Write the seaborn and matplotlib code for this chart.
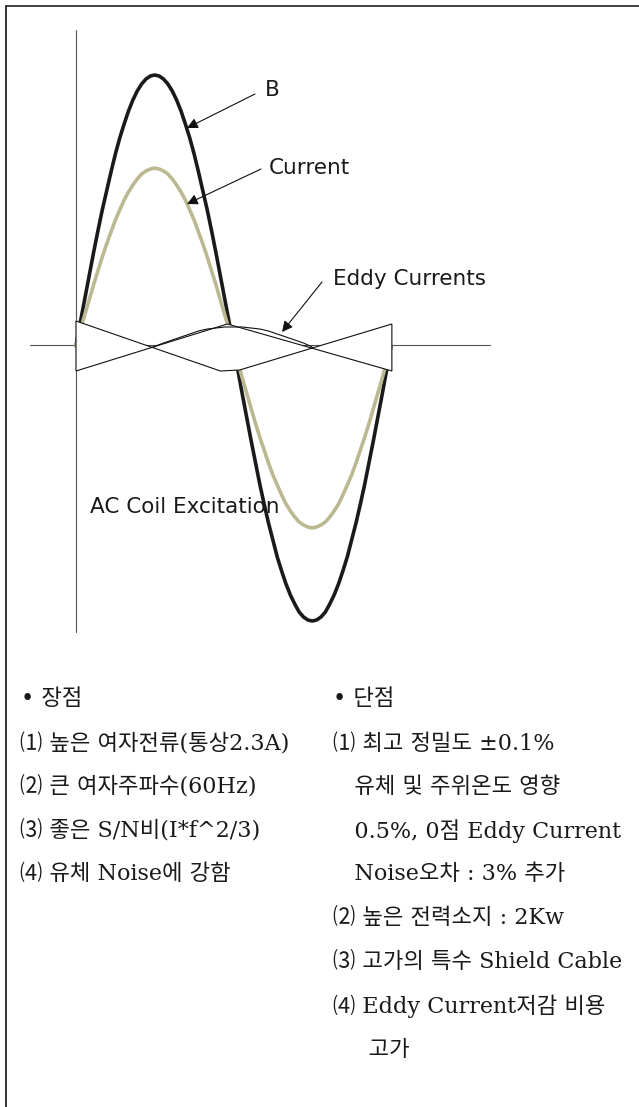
import seaborn as sns
import matplotlib.pyplot as plt
import pandas as pd
import numpy as np

# DATA
# Wave plot: phase in degrees, amplitude in screen units (zero = horizontal axis)
phase = list(range(0, 361, 5))
b_values = [0, 24, 47, 70, 93, 115, 136, 155, 174, 192, 208, 222, 235, 246, 255, 262, 267, 270, 271,
            270, 267, 262, 255, 246, 235, 222, 208, 192, 174, 155, 136, 115, 93, 70, 47, 24, 0,
            -24, -48, -71, -94, -116, -138, -158, -177, -194, -211, -225, -238, -249, -258, -266, -271, -274, -275,
            -274, -271, -266, -258, -249, -238, -225, -211, -194, -177, -158, -138, -116, -94, -71, -48, -24, 0]
current_values = [0, 16, 31, 46, 61, 75, 89, 102, 114, 126, 136, 146, 154, 161, 167, 172, 175, 177, 178,
                  177, 175, 172, 167, 161, 154, 146, 136, 126, 114, 102, 89, 75, 61, 46, 31, 16, 0,
                  -16, -32, -47, -62, -77, -91, -104, -117, -129, -139, -149, -158, -165, -171, -176, -179, -181, -182,
                  -181, -179, -176, -171, -165, -158, -149, -139, -129, -117, -104, -91, -77, -62, -47, -32, -16, 0]

# eddy current hump between the two crossings
eddy_phase = [88, 100, 110, 120, 130, 140, 150, 160, 170, 180, 190, 200, 210, 220, 230, 240, 250, 260, 270]
eddy_values = [-1, 3, 6, 9, 12, 15, 17, 18, 19, 19, 19, 18, 17, 15, 12, 9, 6, 3, -1]

# eddy current envelope (two crossing zigzags)
env_phase = [0, 165, 187, 361, 361, 173, 0]
env_values = [25, -25, -24, 22, -25, 22, -25]

wave_labels = ['B', 'Current', 'Eddy Currents']
title_text = 'AC Coil Excitation'

pros_title = '• 장점'
pros = ['⑴ 높은 여자전류(통상2.3A)',
        '⑵ 큰 여자주파수(60Hz)',
        '⑶ 좋은 S/N비(I*f^2/3)',
        '⑷ 유체 Noise에 강함']
cons_title = '• 단점'
cons = ['⑴ 최고 정밀도 ±0.1%',
        '   유체 및 주위온도 영향',
        '   0.5%, 0점 Eddy Current',
        '   Noise오차 : 3% 추가',
        '⑵ 높은 전력소지 : 2Kw',
        '⑶ 고가의 특수 Shield Cable',
        '⑷ Eddy Current저감 비용',
        '     고가']

# LAYOUT
W, H = 639, 1107
X0, Y0, PX_PER_DEG = 76, 346, 0.875

sns.set_style('white')
korean = ['DejaVu Serif', 'Noto Sans CJK KR']

fig = plt.figure(figsize=(W / 100, H / 100), dpi=100)
fig.patch.set_facecolor('white')

# wave axes covers the whole figure, data units = degrees / pixels
ax = fig.add_axes([0, 0, 1, 1])
ax.set_xlim(-X0 / PX_PER_DEG, (W - X0) / PX_PER_DEG)
ax.set_ylim(-(H - Y0), Y0)
ax.axis('off')

# axes of the diagram
ax.plot([(30 - X0) / PX_PER_DEG, (490 - X0) / PX_PER_DEG], [1, 1], color='#555555', lw=0.8, zorder=1)
ax.plot([0, 0], [Y0 - 30, Y0 - 632], color='#555555', lw=0.8, zorder=1)

waves = pd.DataFrame({'phase': phase, 'B': b_values, 'Current': current_values})
sns.lineplot(data=waves, x='phase', y='B', ax=ax, color='#1a1a1a', linewidth=2.6, zorder=2)
sns.lineplot(data=waves, x='phase', y='Current', ax=ax, color='#bcb992', linewidth=2.6, zorder=3)
for ln in ax.lines:
    ln.set_solid_joinstyle('round')

# white envelope hides the waves near the axis
ax.fill(env_phase, env_values, facecolor='white', edgecolor='#111111', lw=0.8, zorder=4)
ax.plot(eddy_phase, eddy_values, color='#111111', lw=0.8, zorder=5)

# overlay axes in pixel coordinates for labels
ax2 = fig.add_axes([0, 0, 1, 1], facecolor='none')
ax2.set_xlim(0, W)
ax2.set_ylim(H, 0)
ax2.axis('off')

# frame
ax2.plot([6, W], [6, 6], color='#333333', lw=1.3)
ax2.plot([6, 6], [6, H], color='#222222', lw=1.3)

arrow = dict(arrowstyle='-|>', color='#111111', lw=0.8, mutation_scale=16, shrinkA=0, shrinkB=0)
label_pos = [(265, 90), (269, 168), (333, 279)]
arrow_tail = [(255, 94), (261, 169), (322, 282)]
arrow_tip = [(187, 128), (187, 204), (282, 332)]
for lab, p, t, h in zip(wave_labels, label_pos, arrow_tail, arrow_tip):
    ax2.text(p[0], p[1], lab, fontsize=15.5, color='#1a1a1a', ha='left', va='center')
    ax2.annotate('', xy=h, xytext=t, arrowprops=arrow)

ax2.text(90, 507, title_text, fontsize=15.5, color='#1a1a1a', ha='left', va='center')

# pros / cons lists
line_y = [744, 787, 831, 874, 918, 962, 1006, 1050]
ax2.text(21, 699, pros_title, family=korean, fontsize=16, color='#1a1a1a', ha='left', va='center')
for txt, y in zip(pros, line_y):
    ax2.text(20, y, txt, family=korean, fontsize=16, color='#1a1a1a', ha='left', va='center')
ax2.text(333, 699, cons_title, family=korean, fontsize=16, color='#1a1a1a', ha='left', va='center')
for txt, y in zip(cons, line_y):
    ax2.text(333, y, txt, family=korean, fontsize=16, color='#1a1a1a', ha='left', va='center')

fig.savefig('out.png', dpi=100, facecolor='white')
